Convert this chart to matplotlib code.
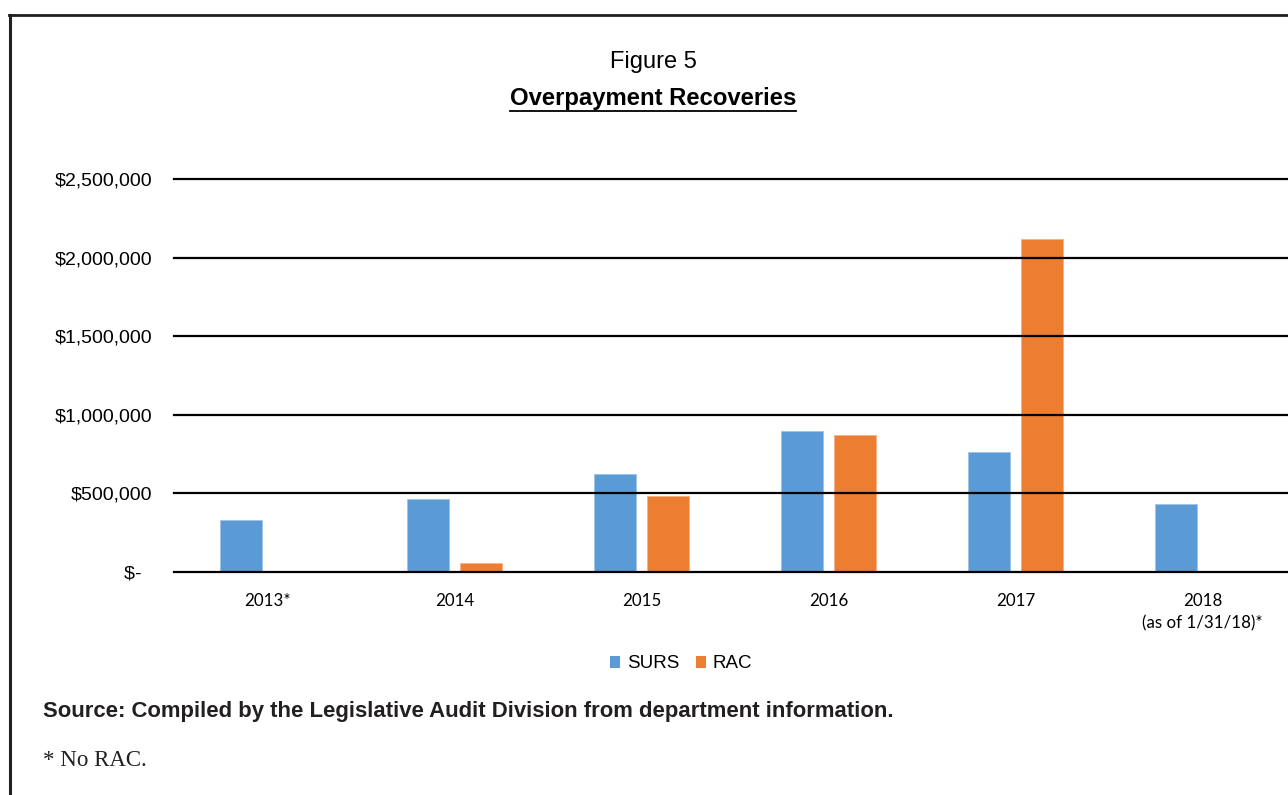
import numpy as np
import matplotlib.pyplot as plt
from matplotlib.patches import Patch
from matplotlib.lines import Line2D

# Overpayment recoveries by year (dollars)
years = ["2013*", "2014", "2015", "2016", "2017", "2018\n(as of 1/31/18)*"]
surs = [330000, 462000, 623000, 897000, 763000, 433000]
rac = [0, 60000, 483000, 871000, 2116000, 0]
yticks = [0, 500000, 1000000, 1500000, 2000000, 2500000]
ytick_labels = ["$-  ", "$500,000", "$1,000,000", "$1,500,000", "$2,000,000", "$2,500,000"]

BLUE = "#5B9BD5"
ORANGE = "#ED7D31"
W, H = 1288, 795

sans = ["Liberation Sans", "DejaVu Sans"]


def px(x, y):
    # pixel position -> figure fraction
    return x / W, 1 - y / H


fig = plt.figure(figsize=(W / 100, H / 100), dpi=100)
fig.patch.set_facecolor("white")

# axes run a little past the right edge, as in the printed page
ax = fig.add_axes([174 / W, 1 - 572 / H, 1122 / W, 393 / H])
x = np.arange(len(years))
bw = 0.225
off = 0.142
ax.bar(x - off, surs, bw, color=BLUE, edgecolor="#9DC3E6", linewidth=0.6, zorder=2)
ax.bar(x + off, rac, bw, color=ORANGE, edgecolor="#F4B183", linewidth=0.6, zorder=2)

ax.set_xlim(-0.5, len(years) - 0.5)
ax.set_ylim(0, 2500000)
ax.set_yticks(yticks)
ax.set_yticklabels(ytick_labels, fontsize=14, family=sans)
ax.set_xticks(x)
ax.set_xticklabels(years, fontsize=12.2, family=["Lato", "DejaVu Sans"], linespacing=1.5)
ax.tick_params(length=0, axis="y", pad=15.5)
ax.tick_params(length=0, axis="x", pad=15)
for v in yticks:
    ax.axhline(v, color="black", linewidth=1.6, zorder=3, clip_on=False)
for s in ax.spines.values():
    s.set_visible(False)
ax.set_facecolor("none")

# legend below the plot
handles = [Patch(facecolor=BLUE, label="SURS"), Patch(facecolor=ORANGE, label="RAC")]
fig.legend(handles=handles, loc="center", bbox_to_anchor=px(681, 664), ncol=2,
           frameon=False, handlelength=0.55, handleheight=0.55, handletextpad=0.35,
           columnspacing=0.9, prop={"family": sans, "size": 13.5})

# titles
fig.text(*px(653, 62), "Figure 5", ha="center", va="center", fontsize=17, family=sans)
t2 = fig.text(*px(653, 98), "Overpayment Recoveries", ha="center", va="center",
              fontsize=17.2, fontweight="bold", family=sans)

fig.text(*px(43, 712), "Source: Compiled by the Legislative Audit Division from department information.",
         ha="left", va="center", fontsize=15.9, fontweight="bold", family=sans, color="#231F20")
fig.text(*px(43, 760), "* No RAC.", ha="left", va="center", fontsize=16.5,
         family=["Liberation Serif", "DejaVu Serif"], color="#231F20")

# page frame (left and top edges)
fig.add_artist(Line2D([9.5 / W, 9.5 / W], [0, 1 - 14.5 / H], color="#231F20", linewidth=2.2))
fig.add_artist(Line2D([8.5 / W, 1], [1 - 14.5 / H, 1 - 14.5 / H], color="#231F20", linewidth=2.0))

# underline the bold title
fig.canvas.draw()
bb = t2.get_window_extent()
uy = bb.y0 - 1
fig.add_artist(Line2D([bb.x0 / W, bb.x1 / W], [uy / H, uy / H], color="black", linewidth=1.3))

fig.savefig("out.png", dpi=100)
